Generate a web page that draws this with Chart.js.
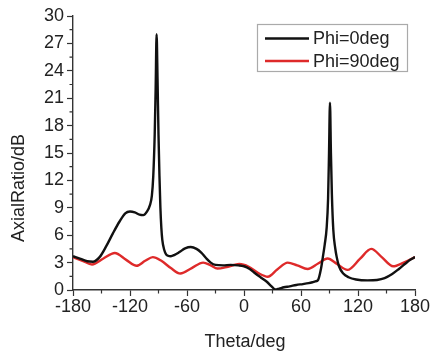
<!DOCTYPE html>
<html>
<head>
<meta charset="utf-8">
<script src="https://cdn.jsdelivr.net/npm/chart.js@4"></script>
<style>
  html, body { margin: 0; padding: 0; background: #fff; }
  #wrap { width: 432px; height: 354px; }
</style>
</head>
<body>
<div id="wrap"><canvas id="c" width="432" height="354"></canvas></div>
<script>
// Axial ratio vs. theta for two azimuth cuts
const theta0 = [-180,-172,-165,-159,-152,-145,-138,-131,-125,-120,-115,-110,-106,-102,-99,-97,-95.5,-94,-93,-92,-91,-90,-89,-88,-87,-86,-84,-82,-80,-77,-73,-68,-62,-56,-50,-45,-40,-35,-30,-22,-14,-6,0,6,12,18,24,29,33,37,42,48,55,62,68,72,75,78,81,83,85,87,88.5,89.5,90.5,91.5,92.5,94,96,97.6,100,104.5,110,118,130,140,148,156,163,170,175,180];
const ar0 = [3.7,3.4,3.15,3.1,3.6,4.8,6.2,7.5,8.4,8.6,8.5,8.25,8.2,8.6,9.3,10.3,12.5,17,22,28,23,17,12.5,9,6.8,5.5,4.4,3.9,3.75,3.7,3.85,4.15,4.55,4.7,4.5,4.1,3.5,3.0,2.75,2.7,2.75,2.7,2.6,2.3,1.8,1.35,0.9,0.4,0.05,0.15,0.3,0.4,0.55,0.65,0.75,0.85,0.95,1.1,2.3,3.6,5.0,6.8,10,15,20.5,15,10.5,6.6,4.6,3.6,2.6,1.8,1.4,1.15,1.05,1.1,1.3,1.75,2.3,2.9,3.3,3.6];

const theta90 = [-180,-170,-160,-148,-136,-124,-113,-104,-96,-87,-77,-67,-55,-43,-35,-28,-17,-5,5,15,25,35,46,56,67,78,88,98,109,122,134,145,157,168,180];
const ar90 = [3.6,3.2,2.8,3.45,4.05,3.3,2.65,3.2,3.6,3.2,2.4,1.8,2.4,3.0,2.7,2.35,2.55,2.85,2.55,1.85,1.45,2.25,3.0,2.7,2.3,2.9,3.45,2.85,2.2,3.4,4.5,3.6,2.6,3.0,3.6];

const seriesNames = ['Phi=0deg', 'Phi=90deg'];
const xTicks = [-180, -120, -60, 0, 60, 120, 180];
const yTicks = [0, 3, 6, 9, 12, 15, 18, 21, 24, 27, 30];
const xTitle = 'Theta/deg';
const yTitle = 'AxialRatio/dB';

const FONT = '"Liberation Sans", Arial, sans-serif';
const TEXT = '#222';
const AXIS = '#333';

function pairs(xs, ys) { return xs.map((x, i) => ({ x: x, y: ys[i] })); }

// minor ticks, axis titles and the boxed legend
const decor = {
  id: 'decor',
  afterDraw(chart) {
    const ctx = chart.ctx;
    const xs = chart.scales.x, ys = chart.scales.y;
    const area = chart.chartArea;
    ctx.save();
    ctx.strokeStyle = AXIS;
    ctx.lineWidth = 1.2;
    ctx.beginPath();
    for (let v = -150; v < 180; v += 60) {
      const px = xs.getPixelForValue(v);
      ctx.moveTo(px, area.bottom);
      ctx.lineTo(px, area.bottom + 3.5);
    }
    for (let v = 1.5; v < 30; v += 3) {
      const py = ys.getPixelForValue(v);
      ctx.moveTo(area.left, py);
      ctx.lineTo(area.left - 3.5, py);
    }
    ctx.stroke();

    ctx.fillStyle = TEXT;
    ctx.font = '18px ' + FONT;
    ctx.textAlign = 'center';
    ctx.textBaseline = 'alphabetic';
    ctx.fillText(xTitle, xs.getPixelForValue(0) + 1, 347);
    ctx.save();
    ctx.translate(24, 188);
    ctx.rotate(-Math.PI / 2);
    ctx.fillText(yTitle, 0, 0);
    ctx.restore();

    // legend box
    const bx = 257.5, by = 24.5, bw = 150, bh = 47;
    ctx.fillStyle = '#fff';
    ctx.fillRect(bx, by, bw, bh);
    ctx.strokeStyle = '#aaa';
    ctx.lineWidth = 1.2;
    ctx.strokeRect(bx, by, bw, bh);
    const rows = [38.5, 61];
    chart.data.datasets.forEach((ds, i) => {
      ctx.strokeStyle = ds.borderColor;
      ctx.lineWidth = 2.4;
      ctx.beginPath();
      ctx.moveTo(265, rows[i]);
      ctx.lineTo(309, rows[i]);
      ctx.stroke();
      ctx.fillStyle = TEXT;
      ctx.textAlign = 'left';
      ctx.textBaseline = 'middle';
      ctx.fillText(ds.label, 313, rows[i] + 1);
    });
    ctx.restore();
  }
};

new Chart(document.getElementById('c'), {
  type: 'line',
  data: {
    datasets: [
      { label: seriesNames[0], data: pairs(theta0, ar0), borderColor: '#111', borderWidth: 2.4,
        pointRadius: 0, cubicInterpolationMode: 'monotone', fill: false },
      { label: seriesNames[1], data: pairs(theta90, ar90), borderColor: '#de2a2a', borderWidth: 2.4,
        pointRadius: 0, cubicInterpolationMode: 'monotone', fill: false }
    ]
  },
  options: {
    responsive: false,
    animation: false,
    events: [],
    layout: { padding: { top: 16, right: 17, left: 0, bottom: 0 } },
    plugins: { legend: { display: false }, tooltip: { enabled: false } },
    scales: {
      x: {
        type: 'linear', min: -180, max: 180,
        afterBuildTicks: s => { s.ticks = xTicks.map(v => ({ value: v })); },
        afterFit: s => { s.height = 64; },
        ticks: { font: { family: FONT, size: 18 }, color: TEXT, padding: 0, maxRotation: 0, autoSkip: false },
        grid: { drawOnChartArea: false, drawTicks: true, tickLength: 6, tickColor: AXIS, tickWidth: 1.2 },
        border: { display: true, color: AXIS, width: 1.4 }
      },
      y: {
        min: 0, max: 30,
        afterBuildTicks: s => { s.ticks = yTicks.map(v => ({ value: v })); },
        afterFit: s => { s.width = 73; },
        ticks: { font: { family: FONT, size: 18 }, color: TEXT, padding: 3, autoSkip: false },
        grid: { drawOnChartArea: false, drawTicks: true, tickLength: 6, tickColor: AXIS, tickWidth: 1.2 },
        border: { display: true, color: AXIS, width: 1.4 }
      }
    }
  },
  plugins: [decor]
});
</script>
</body>
</html>
